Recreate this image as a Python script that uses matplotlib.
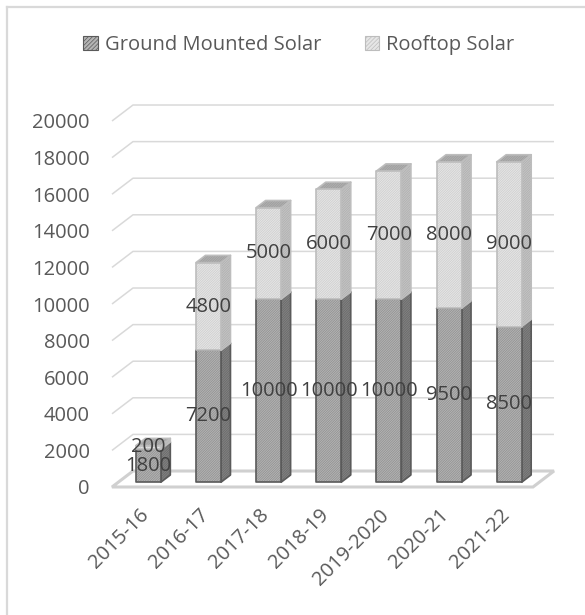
import matplotlib
matplotlib.use('Agg')
import matplotlib.pyplot as plt
from matplotlib.patches import Polygon, Patch
from matplotlib.lines import Line2D

categories = ['2015-16', '2016-17', '2017-18', '2018-19', '2019-2020', '2020-21', '2021-22']
ground = [1800, 7200, 10000, 10000, 10000, 9500, 8500]
rooftop = [200, 4800, 5000, 6000, 7000, 8000, 9000]
yticks = list(range(0, 20001, 2000))
series_names = ['Ground Mounted Solar', 'Rooftop Solar']

W, H = 585, 615
plt.rcParams['font.family'] = ['Open Sans', 'DejaVu Sans']
plt.rcParams['hatch.linewidth'] = 0.5
fig = plt.figure(figsize=(W / 100, H / 100), dpi=100)

FS = 14.5
TXT = '#595959'

ax = fig.add_axes([112 / W, (H - 487) / H, 421 / W, 366 / H])
ax.set_xlim(-0.5, len(categories) - 0.5)
ax.set_ylim(0, 20000)
for s in ax.spines.values():
    s.set_visible(False)
ax.patch.set_visible(False)
ax.set_xticks([])
ax.set_yticks(yticks)
ax.set_yticklabels([str(v) for v in yticks], fontsize=FS, color=TXT)
ax.tick_params(axis='y', length=0, pad=16)

# oblique "3D" depth, in data units (full wall depth)
DX, DY = 0.349, 874
x0, x1 = -0.5, len(categories) - 0.5

# back-wall gridlines
for v in yticks[1:]:
    ax.plot([x0, x0 + DX, x1 + DX], [v, v + DY, v + DY], color='#d9d9d9',
            lw=1.1, clip_on=False, zorder=1, solid_capstyle='butt')
# floor
ax.add_patch(Polygon([(x0, 0), (x1, 0), (x1 + DX, DY), (x0 + DX, DY)], closed=True,
                     facecolor='white', edgecolor='#d0d0d0', lw=2.2,
                     clip_on=False, zorder=1))

F0, FD = 0.30, 0.45
BW = 0.208
HATCH = '/' * 14

styles = {
    'ground': dict(front=('#b4b4b4', '#8e8e8e'), side=('#828282', '#686868'),
                   top=('#9c9c9c', '#858585'), edge='#5a5a5a'),
    'roof': dict(front=('#e6e6e6', '#cccccc'), side=('#c4c4c4', '#aeaeae'),
                 top=('#b0b0b0', '#9c9c9c'), edge='#bdbdbd'),
}


def box(xc, y0, y1, st, z):
    ox, oy = F0 * DX, F0 * DY
    bx, by = FD * DX, FD * DY
    xl, xr = xc - BW + ox, xc + BW + ox
    yb, yt = y0 + oy, y1 + oy
    faces = [
        ([(xr, yb), (xr + bx, yb + by), (xr + bx, yt + by), (xr, yt)], st['side']),
        ([(xl, yt), (xr, yt), (xr + bx, yt + by), (xl + bx, yt + by)], st['top']),
        ([(xl, yb), (xr, yb), (xr, yt), (xl, yt)], st['front']),
    ]
    for pts, (fc, hc) in faces:
        ax.add_patch(Polygon(pts, closed=True, facecolor=fc, edgecolor=hc,
                             hatch=HATCH, lw=0, clip_on=False, zorder=z))
        ax.add_patch(Polygon(pts, closed=True, fill=False, edgecolor=st['edge'],
                             lw=1.2, clip_on=False, zorder=z, joinstyle='round'))


for i, (g, r) in enumerate(zip(ground, rooftop)):
    box(i, 0, g, styles['ground'], 2 + i * 0.01)
    box(i, g, g + r, styles['roof'], 2 + i * 0.01 + 0.005)

lx = F0 * DX
ly = F0 * DY
for i, (g, r) in enumerate(zip(ground, rooftop)):
    ax.text(i + lx, ly + g / 2, str(g), ha='center', va='center', fontsize=FS,
            color='#404040', zorder=10)
    ax.text(i + lx, ly + g + r / 2, str(r), ha='center', va='center', fontsize=FS,
            color='#404040', zorder=10)

for i, c in enumerate(categories):
    ax.text(i - 0.06, -1000, c, rotation=45, ha='right', va='top',
            rotation_mode='anchor', fontsize=FS, color=TXT, clip_on=False)

handles = [Patch(facecolor=styles['ground']['front'][0], edgecolor='#5a5a5a', hatch='/' * 8, lw=0.8),
           Patch(facecolor=styles['roof']['front'][0], edgecolor='#bdbdbd', hatch='/' * 8, lw=0.8)]
fig.legend(handles, series_names, loc='center', bbox_to_anchor=(299 / W, 1 - 45 / H),
           ncol=2, frameon=False, fontsize=FS, labelcolor=TXT, handlelength=0.7,
           handleheight=0.7, handletextpad=0.35, columnspacing=2.2)

fig.add_artist(Line2D([7 / W, 7 / W], [0, 1 - 7 / H], transform=fig.transFigure,
                      color='#d9d9d9', lw=1.6))
fig.add_artist(Line2D([7 / W, 1], [1 - 7 / H, 1 - 7 / H], transform=fig.transFigure,
                      color='#d9d9d9', lw=1.6))

fig.savefig('out.png', dpi=100)
